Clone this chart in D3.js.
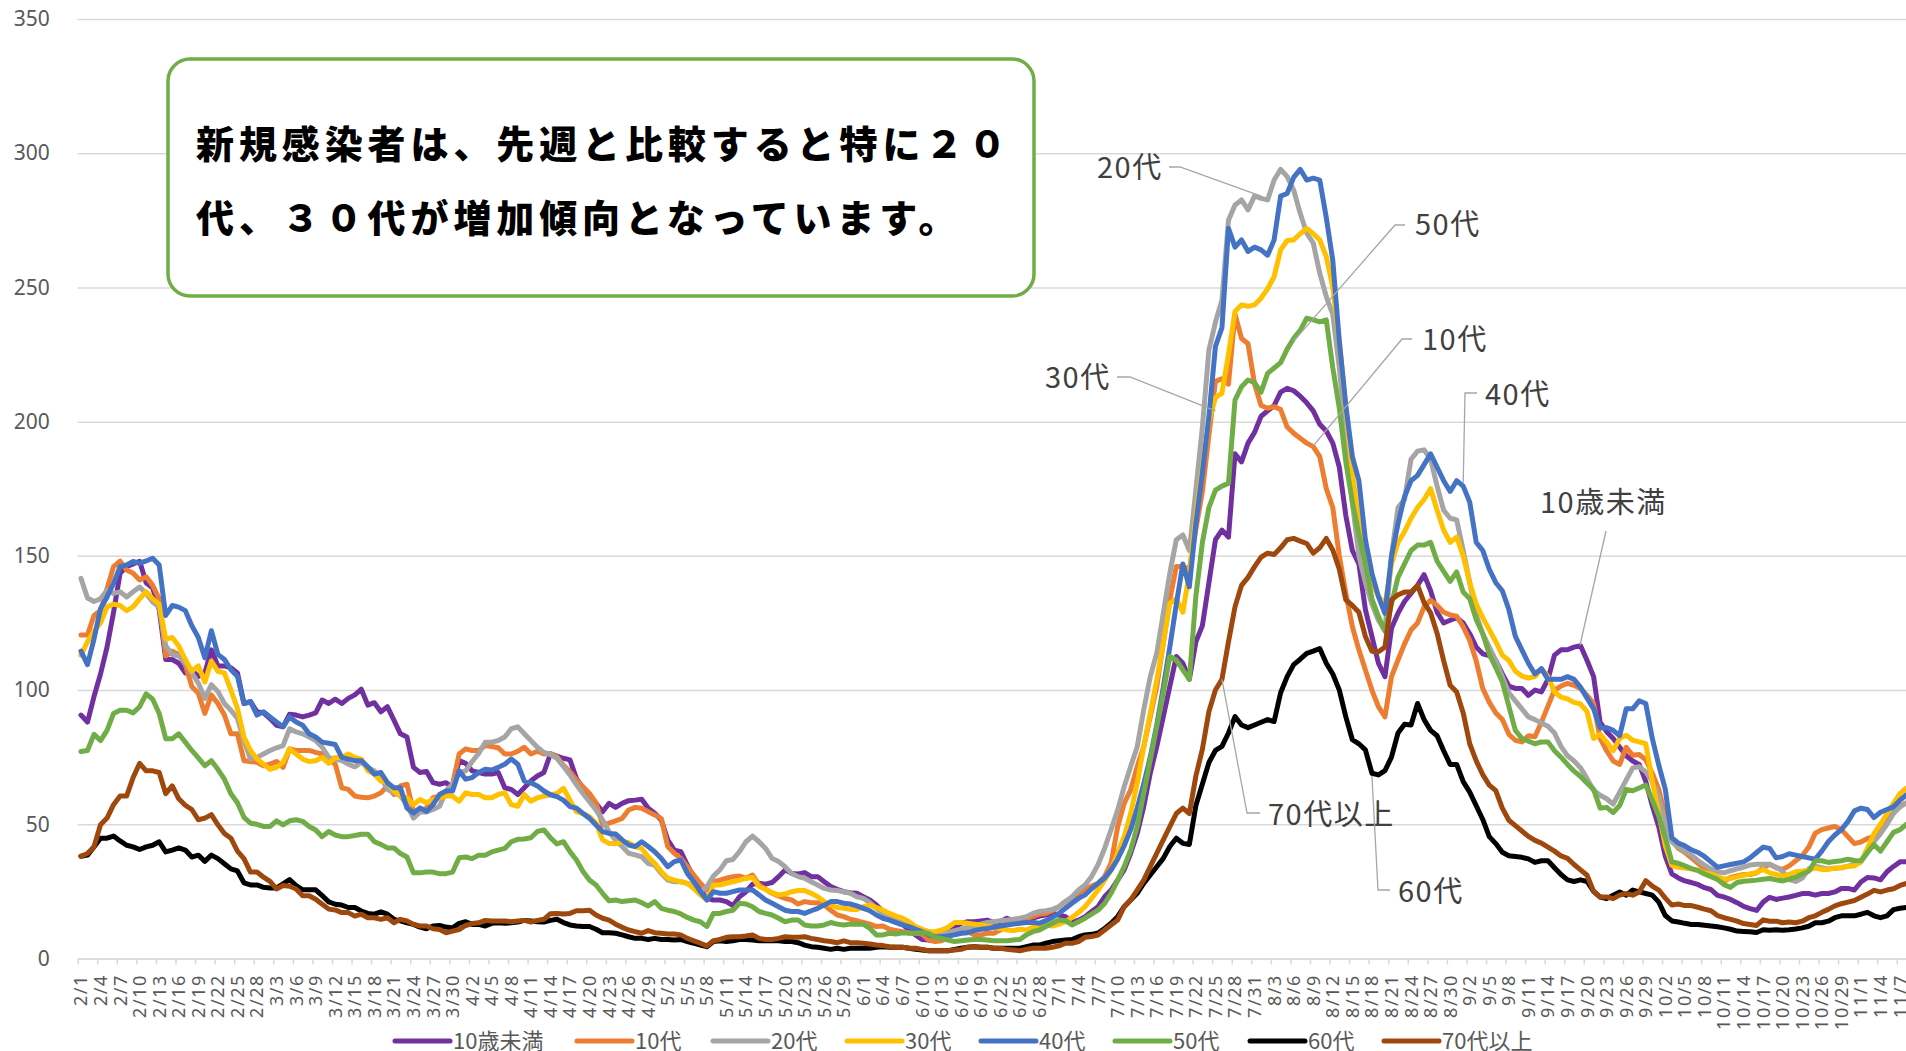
<!DOCTYPE html>
<html>
<head>
<meta charset="utf-8">
<script src="https://cdn.jsdelivr.net/npm/d3@7"></script>
<style>
  body { margin: 0; background: #fff; }
  svg { display: block; }
</style>
</head>
<body>
<svg id="chart"></svg>
<script>
// daily new cases by age group, 2021/2/1 onwards (one value per day)
const startDate = '2021-02-01';
const dayCount = 281;

const seriesNames = ['10歳未満', '10代', '20代', '30代', '40代', '50代', '60代', '70代以上'];
const seriesColors = ['#7030a0', '#ed7d31', '#a5a5a5', '#ffc000', '#4472c4', '#70ad47', '#000000', '#9e480e'];
const yTicks = [0, 50, 100, 150, 200, 250, 300, 350];

const s10u = [
  90.7, 88.1, 97.6, 106, 116, 129, 143.5, 146, 147, 148,
  140, 138, 130, 111.4, 111.4, 110, 106.4, 107.6, 105, 106.4,
  115, 109, 109, 108.3, 106.4, 95, 95.7, 91.9, 91.5, 89.4,
  86.9, 86.3, 91, 90.7, 90, 90.7, 91.5, 96.3, 95, 96.6,
  95, 96.9, 98.2, 100.3, 94.4, 95.3, 91.9, 93.8, 88.8, 83.7,
  82.5, 71.2, 69.3, 69.7, 65.5, 64.9, 65.5, 63.6, 73.7, 72.7,
  69.9, 69.3, 68.7, 68.7, 69.3, 63.6, 63, 61.1, 63.6, 66.1,
  68, 69.3, 76.2, 75.4, 74.6, 74, 67, 63.4, 60.3, 57.8,
  54.7, 57.8, 56.3, 57.8, 58.8, 59, 59.3, 56, 54.1, 51.6,
  44.2, 40.4, 39.8, 34.8, 30.4, 25.5, 22.4, 21.8, 21.8, 21.2,
  19.7, 23, 24.9, 27.7, 28, 27.7, 28.3, 30.5, 33, 31.7,
  31.5, 32, 30.5, 30.5, 28.6, 26.8, 25.8, 24.9, 24.5, 24.3,
  23, 21.8, 19.9, 17.5, 15.8, 14.3, 12.8, 10.6, 8.8, 7.1,
  6.9, 8.1, 9.4, 10.6, 11.6, 13.1, 13.7, 13.7, 14, 14.3,
  13.4, 13.7, 15, 14.1, 14.3, 14.3, 15, 15.8, 16.2, 16.8,
  16.2, 15.6, 13.4, 14.3, 15.6, 17.5, 19.3, 23, 25.5, 29.2,
  33, 39.2, 46.6, 56.6, 69, 78.9, 90.1, 101.3, 112.5, 110,
  104, 118, 124, 140, 156, 159.6, 157, 188, 185, 192,
  196, 202, 204, 206, 211, 212.4, 211.5, 209.5, 207, 204,
  199, 196.5, 192, 183, 165, 152, 147, 130, 120, 110,
  105, 123, 128.6, 133, 136, 139, 143, 137, 129, 125,
  126, 127, 125, 121, 116, 113.5, 112.8, 111, 106, 101.5,
  100.6, 100.6, 98, 100, 99.3, 104, 113, 115, 115, 116,
  116.5, 111, 105, 88, 84.5, 82, 78.7, 75.5, 73.6, 72.3,
  66, 57, 49, 38, 31.5, 30, 28.9, 28.3, 27.6, 26.4,
  25.7, 23.5, 22.9, 22, 20.8, 19.4, 18.6, 17.9, 21, 22.8,
  22, 22.5, 22.9, 23.5, 24.2, 24.2, 23.6, 24.2, 24.2, 24.8,
  26.1, 26.1, 25.5, 28.5, 30.2, 30, 29.3, 32.3, 34.3, 36,
  36
];

const s10 = [
  120.5, 120.5, 127.8, 129.6, 137.8, 146, 148, 144.7, 143.5, 141,
  142.2, 139, 134, 112.7, 114.5, 113.3, 109.5, 101.3, 98.8, 91.3,
  98.2, 95, 90.7, 83.7, 83.7, 73.7, 73.4, 73.1, 71.8, 72.4,
  73.4, 71.2, 78.1, 77.5, 77.5, 77.5, 76.8, 76.2, 74.3, 72.4,
  63.6, 63, 60.5, 60.1, 59.9, 60.5, 61.7, 64.3, 61.1, 64.3,
  64.9, 54.8, 54.8, 56.1, 59.9, 60.5, 62.4, 64.9, 76.2, 78.1,
  77.5, 77.5, 79.3, 79, 78.5, 76.2, 76.2, 77.2, 78.7, 76.2,
  77.2, 76.2, 76.4, 75.2, 72, 69.6, 66.5, 64, 61.5, 58,
  49.7, 50.4, 51.3, 52.2, 55.3, 56.3, 56, 54.7, 53.5, 52.2,
  41.7, 39.2, 37.3, 34.2, 31.1, 28, 25.5, 28.6, 29.2, 29.9,
  30.5, 30.7, 29.9, 31.1, 27.4, 25.8, 24.3, 23.3, 22.4, 21.8,
  20.3, 21.2, 20.8, 20.8, 19.9, 18, 16.2, 15.6, 14.6, 14.1,
  13.4, 12.8, 11.9, 12.1, 10.9, 10.4, 10, 9.6, 9.4, 9.1,
  6.9, 6.3, 6.6, 8.1, 9.4, 9.6, 10, 8.8, 8.8, 9.4,
  9.4, 10.6, 12.8, 13.4, 14.3, 15, 15.6, 16.6, 16.8, 17.8,
  19.3, 21.2, 22.4, 24.3, 25.8, 27, 28, 30.5, 35.5, 49,
  57.8, 62.8, 71.5, 78.9, 90.1, 101.3, 117.4, 133.6, 146, 146,
  145, 160, 174, 195, 215, 216, 214, 240, 231, 229,
  214, 206, 205, 205.6, 204.5, 198, 195.7, 193.8, 192, 190.7,
  187, 175, 168, 150, 136, 123.6, 115, 107.5, 100, 93.8,
  90, 105, 111.2, 117.2, 122.4, 125, 131, 133.5, 131.5, 129,
  128, 127.5, 123.6, 118.5, 110.8, 100.6, 95.4, 91.5, 89, 83.5,
  81.3, 80.7, 83, 82.6, 88, 94, 100, 101.5, 102.5, 101.8,
  100.6, 98, 95, 82, 77.4, 73.6, 72.3, 78.7, 75.7, 76,
  74, 69, 63, 53, 44, 41, 39.5, 37.5, 35.5, 33.5,
  31.5, 29.7, 28.7, 30.2, 30.8, 31.3, 31.3, 31.9, 33.8, 35.1,
  33.8, 33.2, 34.5, 36.4, 38.3, 41.5, 46.7, 48, 48.6, 49.2,
  48, 45.4, 42.8, 43.4, 44.7, 45.4, 49.2, 51.1, 54.4, 56.9,
  58
];

const s20 = [
  141.6, 134.3, 133, 134, 137.2, 136, 136.6, 134.7, 136.6, 138.4,
  136, 132.8, 130.9, 116.4, 113.3, 112.7, 110.1, 106.4, 102.6, 96.9,
  102, 99.5, 95, 92.5, 89.4, 81.2, 74.3, 74.9, 76.2, 77.5,
  78.5, 79.3, 85.6, 84.4, 83.7, 82.5, 81.2, 78.7, 74.9, 74.3,
  73.7, 72.4, 71.4, 73.1, 71.2, 69.9, 67.4, 63, 61.7, 60.5,
  57.3, 52.3, 54.6, 54.6, 55.5, 56.7, 62.4, 64.9, 69.3, 69.9,
  73.4, 76.4, 80.6, 80.6, 81.2, 82.5, 85.6, 86.3, 83.7, 81.2,
  78.7, 76.8, 76, 74.6, 71.5, 68.4, 64.7, 61.5, 58.4, 55.3,
  51.6, 47.2, 44.1, 41.7, 39.2, 38.6, 37.9, 35.4, 34.8, 31.7,
  29.2, 28.6, 28.6, 28, 27, 24.9, 26.8, 30.7, 33, 36.4,
  36.9, 39.8, 43.5, 45.6, 43.5, 41, 37.3, 36.1, 34.2, 31.7,
  30.5, 29.9, 28.6, 27.4, 26.1, 25.5, 25.3, 24.9, 24.3, 23,
  22.4, 20.8, 18.7, 16.8, 15.6, 14.3, 13.1, 12.1, 11.2, 10.6,
  10, 9.4, 9.4, 9.6, 10.4, 10.9, 11.6, 11.9, 12.8, 13.4,
  13.7, 14.1, 14.3, 14.6, 15, 15.6, 16.8, 17.5, 17.8, 18.3,
  19.3, 21.2, 23, 25.5, 27.4, 30.5, 35, 41, 48, 55.3,
  64, 71.5, 78.9, 92.6, 105, 113.7, 128.6, 143.5, 156, 157.8,
  152, 174.5, 198, 226.7, 237, 245.3, 275, 280.7, 282.6, 278.9,
  284.1, 283.2, 282.6, 290, 294, 291.3, 286.3, 277.6, 270.2, 266.5,
  255.3, 246.6, 240, 220, 195, 170, 150, 140, 132, 126,
  122, 150, 168, 171, 186, 189, 189.5, 186, 176, 167,
  164, 163.4, 152, 140, 128, 121, 116, 111, 105, 99,
  96, 93, 90, 89, 87.7, 86.5, 84, 79, 75.5, 73.6,
  71, 67, 62.7, 60.8, 59.5, 57.5, 62, 66.5, 71, 71.5,
  69.5, 66, 60, 50, 43.5, 41.5, 40, 38.5, 36.5, 34.8,
  33.3, 32.3, 31.9, 32.7, 33.4, 34, 34.8, 35.1, 35.1, 35.1,
  34, 32.5, 29.5, 28.7, 30, 33.4, 34.4, 33.8, 33.4, 33.6,
  33.8, 34.4, 35, 36, 39.5, 43.5, 46.5, 50, 54, 56.5,
  58
];

const s30 = [
  113, 118, 122, 125, 131, 132, 131.5, 129.6, 131, 134,
  136.6, 134, 132, 119, 119.6, 116.4, 111.4, 107, 109, 103,
  110.8, 107, 106.4, 100, 93.2, 82.5, 77.5, 74.3, 72.4, 70.5,
  71.2, 73.1, 78.1, 76.2, 74.3, 73.4, 73.7, 74.9, 72.7, 74.9,
  74.9, 76.2, 74.9, 74.3, 69.9, 68.7, 66.1, 65.5, 62.4, 60.5,
  59.9, 57.3, 59.2, 58, 59.2, 59.9, 60.5, 60.5, 58.6, 61.7,
  61.1, 61.1, 59.9, 59.9, 61.1, 61.7, 57.3, 56.7, 61.1, 58.6,
  59.9, 60.5, 61, 61.5, 63.4, 59, 54.7, 54, 52.8, 50.4,
  44.2, 42.9, 42.7, 43.5, 43.2, 41.7, 41, 37.9, 35.5, 32.3,
  29.9, 29.2, 28.6, 28, 26.1, 23.7, 21.8, 27.4, 27.4, 28,
  28.6, 29.2, 29.9, 30.2, 26.8, 25.8, 24.5, 23.7, 24, 24.9,
  25.3, 25.3, 24.3, 23, 21.2, 19.9, 19, 18.7, 18.3, 18.3,
  19.3, 19.9, 19, 18, 16.8, 15.8, 15, 13.7, 11.9, 10.9,
  10, 10, 10.6, 11.6, 13.4, 13.4, 13.1, 12.8, 12.5, 12.1,
  11.6, 11.2, 10.6, 10.4, 10.9, 10.6, 11.6, 12.1, 12.5, 12.1,
  12.8, 13.7, 15.3, 17.1, 19.3, 22.4, 25.5, 29.2, 33, 39.2,
  45.4, 54, 65.3, 78.9, 91.3, 103.7, 117.4, 132.3, 134, 129,
  143.5, 165, 183, 200, 209, 210.6, 225, 241, 243.5, 243,
  243.5, 246, 249.5, 254, 264, 267.5, 267.7, 270, 272, 270,
  267.7, 261.5, 250, 230, 205, 181, 162, 150, 140, 135,
  131.5, 147, 155, 159, 164, 168, 171, 175, 167, 159.6,
  155, 157, 150, 140, 132, 127, 122.5, 118, 113, 111,
  107, 105.2, 104.5, 105, 108, 105, 99.3, 97.4, 96.7, 95.4,
  94.8, 92, 82, 83.5, 80.7, 77.4, 81.9, 83.2, 81.3, 80.7,
  80, 66, 54, 42, 34.7, 34, 33.7, 33.4, 32.8, 32,
  31.5, 30.5, 29.6, 29.8, 30.4, 31, 31.5, 32, 33.2, 31.9,
  31.3, 30.6, 31.3, 32.3, 32.5, 33, 33.7, 33.2, 33.2, 33.6,
  33.8, 34.4, 34.5, 36, 41, 46.5, 50, 54, 57.8, 61.5,
  63.5
];

const s40 = [
  114.5, 109.5, 119, 130.3, 134.7, 139.7, 146, 146.6, 147.9, 147.2,
  148.1, 149.1, 146.6, 127.8, 131.5, 130.9, 129.6, 124, 119.6, 112,
  122.1, 113.3, 111.4, 107.6, 105.1, 95, 95.7, 90.7, 91.9, 90,
  88.1, 86.3, 90, 88.1, 86.9, 83.7, 82.5, 80.6, 80.2, 79.7,
  74.9, 74.3, 73.7, 73.7, 71.4, 68.7, 69.3, 65.5, 63.6, 63.6,
  56.1, 54.2, 56.1, 54.8, 57.3, 61.1, 62.4, 62.4, 69.9, 66.8,
  67.4, 69.3, 70.5, 70.2, 71.2, 72.4, 74.3, 72.4, 66.1, 65.5,
  64.3, 62.4, 61, 60.3, 59, 56.6, 56, 54, 52.2, 49.7,
  47.3, 46.6, 46.4, 44.2, 42.3, 41.7, 43.5, 41.7, 39.8, 37.3,
  34.2, 36.1, 36.7, 31.7, 28.6, 24.9, 21.8, 24.9, 24.3, 24.3,
  24.9, 25.5, 25.5, 25.5, 23.7, 21.8, 20.6, 19.3, 18, 17.5,
  17.5, 16.8, 17.8, 18.7, 19.9, 21.2, 21.2, 20.6, 20.3, 19.6,
  18.7, 17.8, 16.2, 15, 14.3, 13.4, 12.5, 11.9, 10.9, 10,
  8.8, 8.1, 8.1, 8.4, 8.8, 9.4, 9.6, 10.4, 10.9, 11.2,
  11.6, 12.1, 12.5, 12.8, 13.1, 13.4, 13.4, 13.1, 14.1, 15.3,
  16.8, 18.7, 20.6, 22.4, 23.7, 26, 28, 30, 33, 37,
  42, 48, 56, 65, 75, 87, 101, 116, 132, 147,
  138.5, 162, 181, 202, 228, 235, 272, 265, 267.7, 263.4,
  265, 264, 262, 267.7, 284, 285, 291, 294, 290, 290.7,
  290, 276, 260, 230, 206, 187, 178, 156, 143.5, 134.8,
  128.6, 149.7, 162, 172, 178, 180, 184, 188, 183, 178,
  174, 178, 176, 170, 155, 152, 145, 140, 137, 130,
  120, 115, 110, 106, 108, 104, 104, 104, 105, 104,
  101, 97, 93, 86, 86, 85, 83, 93, 93, 96,
  95, 82, 72, 63, 45, 43, 42, 40.5, 39.5, 38,
  36, 34, 34.5, 35, 35.5, 36, 37.5, 39.5, 41.5, 41,
  37.5, 38, 39, 38.5, 38, 37.5, 37, 40, 43.5, 46,
  48, 51, 55, 56, 55.5, 52.5, 54.5, 55.5, 56.5, 59,
  61
];

const s50 = [
  77.1, 77.5, 83.5, 81.2, 85, 91.3, 92.5, 92.5, 91.5, 93.8,
  98.6, 96.6, 91.3, 81.9, 81.9, 83.7, 80.6, 77.5, 74.7, 71.8,
  73.7, 70.5, 66.8, 61.4, 58, 52.6, 50.4, 50, 49.2, 49.2,
  51.3, 49.8, 51.3, 51.7, 51.1, 49.2, 47.9, 45.4, 47.3, 46,
  45.4, 45.4, 45.8, 46.3, 46.3, 43.5, 42.5, 41.2, 41.2, 39.1,
  37.8, 31.9, 31.9, 32.2, 32.2, 31.6, 31.6, 32.2, 37.5, 37.8,
  37.2, 38.5, 38.5, 39.7, 40.4, 41, 43.5, 44.4, 44.5, 45,
  47.3, 47.9, 45, 42.7, 43.5, 39.8, 36.7, 32.4, 29.2, 27.4,
  24.3, 21.5, 21.8, 21.2, 21.5, 21.8, 20.8, 19.6, 21.2, 18.7,
  18, 17.5, 16.6, 15.3, 14.3, 13.7, 11.9, 16.8, 16.8, 17.5,
  18, 20.6, 20.3, 19.3, 17.5, 16.8, 16.2, 15, 13.7, 14.3,
  14.3, 12.5, 12.1, 12.1, 12.5, 13.4, 12.8, 12.5, 12.8, 12.8,
  12.8, 11.2, 8.8, 8.8, 9.4, 9.1, 9.6, 9.4, 9.4, 9.6,
  9.4, 7.9, 7.5, 6.9, 6.3, 6.6, 6.9, 7.1, 7.1, 6.9,
  6.6, 6.6, 6.6, 6.9, 7.1, 8.8, 10, 10.6, 11.9, 13.1,
  14.3, 14.1, 12.5, 13.7, 15, 16.5, 18, 20.5, 24.3, 29.2,
  34.2, 40.4, 49.1, 61.5, 73.9, 86.4, 98.8, 112.5, 111.2, 107.5,
  104, 135, 155, 168, 174.5, 176, 177, 208, 213, 215.5,
  214.5, 211, 218, 220, 222, 227, 231, 234, 238.5, 237.9,
  237.2, 237.9, 220, 205, 185, 170, 158, 147, 134, 127.4,
  122, 132, 142, 147, 152, 154, 154, 155, 148, 144.2,
  140.5, 144, 136.5, 134, 126.2, 121, 113.4, 108.3, 103, 94,
  85, 82, 81, 80, 80.7, 80.7, 77.4, 75, 72.3, 69.8,
  67.8, 65.3, 63, 56, 56.3, 54.4, 57, 63, 62.5, 63.5,
  64.6, 59, 53, 45, 36, 35.5, 34.5, 33.5, 32.8, 31.5,
  30.5, 29.5, 27.5, 26.5, 28.3, 28.8, 29, 29.2, 29.5, 29.8,
  29.3, 28.9, 29.5, 30.3, 31.5, 32.5, 36.4, 36.4, 35.8, 36.1,
  36.4, 37, 36.5, 36.4, 39.5, 42.5, 40, 43.5, 47, 48,
  50
];

const s60 = [
  38.1, 38.5, 41.6, 44.8, 44.8, 45.6, 43.8, 42.2, 41.6, 40.6,
  41.6, 42.2, 43.5, 39.7, 40.4, 41.2, 40.4, 37.8, 38.5, 36.2,
  38.5, 37.2, 35.3, 33.4, 32.6, 28.2, 27.4, 27.4, 26.5, 26.3,
  26.3, 27.8, 29.4, 27.2, 25.6, 25.6, 25.6, 23.4, 21.1, 20.2,
  19.9, 19, 19, 17.7, 16.8, 16.5, 17.4, 16.5, 14.6, 14,
  13.3, 12.7, 11.7, 11.1, 12.1, 12.3, 11.7, 11.4, 13.1, 13.7,
  12.7, 12.7, 12.1, 13.1, 13.3, 13.1, 13.3, 13.6, 14.2, 14,
  13.7, 13.6, 14.2, 14.6, 13.4, 12.5, 12.1, 11.9, 11.9, 10.9,
  9.6, 9.6, 9.4, 8.8, 8.1, 7.5, 7.5, 7.1, 7.5, 7.1,
  7.1, 6.9, 7.1, 6.3, 5.7, 5, 4.4, 6.3, 6.6, 6.3,
  6.6, 7.1, 7.1, 6.9, 6.6, 6.6, 6.6, 6.6, 6.3, 6.3,
  5.9, 5, 4.4, 4.2, 3.8, 3.4, 3.8, 3.4, 3.8, 3.8,
  3.8, 3.8, 4.2, 4.4, 4.2, 4.2, 4.2, 3.8, 3.4, 3.2,
  2.9, 2.9, 2.9, 2.9, 3.4, 3.8, 4.2, 4.4, 4.2, 4.2,
  3.8, 3.8, 3.8, 3.8, 3.8, 4.4, 5, 5, 5.7, 6.3,
  6.6, 6.9, 7.1, 8.1, 8.8, 9, 9.5, 11.2, 13.1, 15.6,
  19.3, 21.8, 24.3, 28, 31.1, 34.2, 37.3, 41.7, 44.8, 42.9,
  42.5, 57, 65, 73, 77.5, 79, 84, 90.1, 87, 86,
  87, 88, 89, 88.3, 99, 105, 109.5, 111.5, 113.7, 114.5,
  115.5, 110, 106, 100, 90, 81.5, 80, 77.7, 69, 68.4,
  70, 75, 84, 87.3, 87, 95, 89, 85, 83, 77.4,
  72.3, 72.3, 65.9, 62, 56.9, 51.8, 45.4, 42.8, 39.6, 38.3,
  38, 37.7, 37.1, 35.8, 36.4, 36.4, 33.8, 31.3, 29.3, 28.7,
  29.3, 28.7, 25, 22.9, 22.3, 23.6, 24.8, 23.6, 25.5, 24.8,
  24.2, 23.6, 21, 16, 14, 13.6, 13.1, 12.7, 12.7, 12.4,
  12.1, 11.8, 11.4, 10.9, 10.2, 10.1, 10, 9.7, 10.7, 10.5,
  10.7, 10.5, 10.7, 11, 11.4, 12, 13.3, 13.3, 13.9, 15.2,
  15.9, 15.9, 15.9, 16.5, 17.2, 15.9, 15.2, 15.9, 18.2, 18.7,
  19
];

const s70 = [
  38.1, 39.1, 41.6, 49.8, 52.3, 57.3, 60.5, 60.5, 67.4, 72.7,
  69.9, 69.9, 69.3, 61.4, 64.3, 59.5, 57.1, 55.5, 51.7, 52.3,
  53.6, 49.8, 46.6, 44.8, 40, 37.2, 32.2, 32.2, 30.3, 28.7,
  25.9, 27.2, 26.9, 25.9, 23.4, 23.4, 22.1, 20.2, 18.4, 18.1,
  17.1, 17.1, 15.8, 16.5, 15.2, 15.2, 14.6, 15.2, 13.3, 14.6,
  14, 12.7, 12.1, 12.1, 11.1, 10.8, 9.6, 10.2, 10.8, 12.3,
  13, 13.3, 14.2, 14, 14, 14, 13.7, 14, 14.2, 13.6,
  14.2, 14.6, 16.7, 16.8, 16.6, 16.8, 17.8, 17.8, 18, 16.2,
  15, 14.3, 12.8, 11.6, 10.6, 10, 9.4, 10.4, 9.6, 9.4,
  9.1, 9.1, 8.8, 7.5, 6.6, 5.7, 4.7, 6.6, 7.1, 7.9,
  8.1, 8.1, 8.4, 8.8, 7.5, 7.1, 7.1, 7.5, 8.1, 7.9,
  7.9, 8.1, 7.5, 7.1, 6.6, 6.3, 5.9, 6.6, 5.9, 5.9,
  5.7, 5.4, 5, 4.8, 4.4, 4.2, 4.2, 3.8, 3.8, 3.4,
  2.9, 2.9, 2.9, 2.9, 3.2, 3.4, 4.2, 4.4, 4.2, 4.2,
  3.8, 3.8, 3.4, 3.2, 2.9, 3.4, 3.8, 3.8, 3.8, 4.2,
  4.7, 5.7, 5.7, 6.3, 7.9, 8.2, 8.7, 10.6, 12.5, 14.3,
  19.3, 21.8, 25.5, 29.2, 34.2, 39.2, 44.2, 49.1, 54, 56,
  54, 68, 78, 92, 100, 104, 118, 131, 139, 142,
  146, 149.5, 151, 150.5, 153, 156, 156.5, 155.5, 154.6, 151,
  153, 156.5, 152.2, 145, 133.6, 131.5, 129, 120, 114.5, 114.3,
  116, 133.6, 135.5, 136.5, 136.5, 139, 132.6, 128.8, 121.1, 111,
  101.8, 99.3, 91.5, 80, 73.6, 68.5, 64.6, 62.5, 56, 51.5,
  49.5, 47.5, 45.5, 44, 43, 41.5, 40, 38.2, 37.3, 35,
  33, 31, 25, 22.9, 22.9, 22.3, 23.6, 24.2, 23.6, 24.8,
  29, 27, 25.5, 22.5, 19.9, 20.3, 19.7, 19.7, 19.1, 18.4,
  17.8, 16, 15.2, 14.6, 13.9, 13, 12.7, 12.3, 14.4, 13.9,
  13.9, 13.3, 13.6, 13.3, 13.9, 15.2, 15.9, 17.2, 18.3, 19.6,
  20.4, 21, 21.6, 22.8, 24, 25.4, 24.8, 25.5, 26, 27.2,
  28
];

const seriesValues = [s10u, s10, s20, s30, s40, s50, s60, s70];

// callout labels: text, label anchor (px), elbow points (px), target (day, value)
const callouts = [
  { text: '20代', tx: 1097, ty: 168, pts: [[1169, 167], [1180, 167]], day: 181, value: 284 },
  { text: '50代', tx: 1415, ty: 225, pts: [[1405, 225], [1395, 225]], day: 186, value: 230 },
  { text: '10代', tx: 1422, ty: 340, pts: [[1412, 339], [1402, 339]], day: 189, value: 191 },
  { text: '30代', tx: 1045, ty: 378, pts: [[1117, 377], [1130, 377]], day: 174, value: 204 },
  { text: '40代', tx: 1485, ty: 395, pts: [[1477, 393], [1465, 393]], day: 212, value: 177 },
  { text: '10歳未満', tx: 1540, ty: 503, pts: [[1606, 531]], day: 229.9, value: 116.6 },
  { text: '70代以上', tx: 1268, ty: 815, pts: [[1260, 813], [1247, 813]], day: 175, value: 104 },
  { text: '60代', tx: 1398, ty: 892, pts: [[1390, 890], [1378, 890]], day: 198, value: 68 }
];

const noteLines = ['新規感染者は、先週と比較すると特に２０', '代、３０代が増加傾向となっています。'];
const legendX = [395, 577, 713, 847, 981, 1115, 1250, 1384];

const W = 1906, H = 1051;
const plotLeft = 77.7, dayWidth = 6.52;

const svg = d3.select('#chart')
    .attr('width', W)
    .attr('height', H)
    .style('font-family', '"Noto Sans", "Noto Sans CJK JP", sans-serif');

const t0 = d3.timeParse('%Y-%m-%d')(startDate);
const categories = d3.range(dayCount).map(i => {
  const d = d3.timeDay.offset(t0, i);
  return (d.getMonth() + 1) + '/' + d.getDate();
});

const xScale = d3.scaleLinear()
    .domain([0, dayCount])
    .range([plotLeft, plotLeft + dayCount * dayWidth]);

const yScale = d3.scaleLinear()
    .domain([0, 350])
    .range([958.5, 19]);

// gridlines + y labels
const yAxis = svg.append('g')
    .attr('transform', 'translate(' + plotLeft + ',0)')
    .call(d3.axisLeft(yScale).tickValues(yTicks).tickSize(-(W - plotLeft)).tickPadding(28));
yAxis.select('.domain').remove();
yAxis.selectAll('line').attr('stroke', '#d9d9d9').attr('stroke-width', 1.5);
yAxis.selectAll('text')
    .attr('fill', '#595959')
    .style('font-size', '21px')
    .style('font-family', '"Noto Sans", sans-serif');

// category axis
const xAxis = svg.append('g')
    .attr('transform', 'translate(0,' + yScale(0) + ')')
    .call(d3.axisBottom(xScale)
      .tickValues(d3.range(0, dayCount + 1, 3))
      .tickSize(6)
      .tickSizeOuter(0)
      .tickFormat(''));
xAxis.selectAll('line, path').attr('stroke', '#d9d9d9').attr('stroke-width', 1.5);

svg.append('g')
  .selectAll('text')
  .data(d3.range(0, dayCount, 3))
  .enter().append('text')
    .attr('transform', i => 'translate(' + xScale(i + 0.5) + ',974) rotate(-90)')
    .attr('text-anchor', 'end')
    .attr('dy', '0.36em')
    .attr('fill', '#595959')
    .style('font-size', '18px')
    .style('letter-spacing', '1.6px')
    .text(i => categories[i]);

// series lines
const line = d3.line()
    .x((d, i) => xScale(i + 0.5))
    .y(d => yScale(d));

svg.append('g')
  .selectAll('path')
  .data(seriesValues)
  .enter().append('path')
    .attr('d', line)
    .attr('fill', 'none')
    .attr('stroke', (d, i) => seriesColors[i])
    .attr('stroke-width', 5)
    .attr('stroke-linejoin', 'round')
    .attr('stroke-linecap', 'round');

// callouts
const co = svg.append('g');
callouts.forEach(c => {
  const pts = c.pts.concat([[xScale(c.day + 0.5), yScale(c.value)]]);
  co.append('polyline')
    .attr('points', pts.map(p => p.join(',')).join(' '))
    .attr('fill', 'none')
    .attr('stroke', '#a6a6a6')
    .attr('stroke-width', 1.3);
  co.append('text')
    .attr('x', c.tx)
    .attr('y', c.ty)
    .attr('dy', '0.35em')
    .attr('fill', '#404040')
    .style('font-size', '29px')
    .style('letter-spacing', '1.5px')
    .style('font-family', '"Noto Sans CJK JP", sans-serif')
    .text(c.text);
});

// note box
svg.append('rect')
    .attr('x', 168).attr('y', 59)
    .attr('width', 866).attr('height', 237)
    .attr('rx', 22)
    .attr('fill', '#fff')
    .attr('stroke', '#70ad47')
    .attr('stroke-width', 3.5);

svg.append('g')
  .selectAll('text')
  .data(noteLines)
  .enter().append('text')
    .attr('x', 196)
    .attr('y', (d, i) => 158 + i * 74)
    .attr('fill', '#000')
    .style('font-size', '38px')
    .style('font-weight', 900)
    .style('letter-spacing', '4.9px')
    .style('font-family', '"Noto Sans CJK JP", sans-serif')
    .text(d => d);

// legend
const legend = svg.append('g')
  .selectAll('g')
  .data(seriesNames)
  .enter().append('g')
    .attr('transform', (d, i) => 'translate(' + legendX[i] + ',1041)');

legend.append('line')
    .attr('x1', 0).attr('x2', 55)
    .attr('stroke', (d, i) => seriesColors[i])
    .attr('stroke-width', 5)
    .attr('stroke-linecap', 'round');

legend.append('text')
    .attr('x', 58)
    .attr('dy', '0.35em')
    .attr('fill', '#595959')
    .style('font-size', '22px')
    .style('font-family', '"Noto Sans CJK JP", sans-serif')
    .text(d => d);
</script>
